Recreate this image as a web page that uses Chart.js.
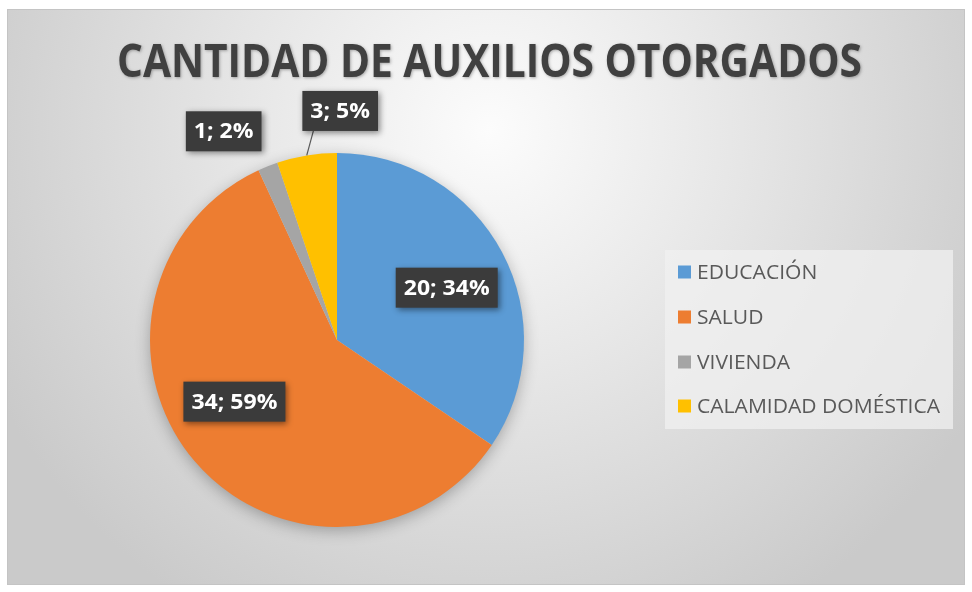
<!DOCTYPE html>
<html>
<head>
<meta charset="utf-8">
<script src="https://cdn.jsdelivr.net/npm/chart.js@4.4.1/dist/chart.umd.min.js"></script>
<style>
  html, body { margin: 0; padding: 0; background: #ffffff; }
  #wrap { width: 972px; height: 592px; position: relative; }
</style>
</head>
<body>
<div id="wrap"><canvas id="c" width="972" height="592"></canvas></div>
<script>
// ---- data ----
const titleText = 'CANTIDAD DE AUXILIOS OTORGADOS';
const categories = ['EDUCACIÓN', 'SALUD', 'VIVIENDA', 'CALAMIDAD DOMÉSTICA'];
const values = [20, 34, 1, 3];
const sliceColors = ['#5B9BD5', '#ED7D31', '#A5A5A5', '#FFC000'];

// ---- label placement style (angle in degrees clockwise from top, distance as fraction of radius) ----
const labelAngle = [64.5, 239, 331.5, 0.8];
const labelDist = [0.65, 0.64, 1.27, 1.225];
const labelLeader = [false, false, false, true];

const total = values.reduce((a, b) => a + b, 0);
const labelTexts = values.map(v => v + '; ' + Math.round(v / total * 100) + '%');

const FONT = '"Open Sans", "DejaVu Sans", sans-serif';

const bgPlugin = {
  id: 'bgPlugin',
  beforeDraw(chart) {
    const ctx = chart.ctx;
    ctx.save();
    ctx.fillStyle = '#ffffff';
    ctx.fillRect(0, 0, chart.width, chart.height);
    const x0 = 7, y0 = 9, x1 = 965, y1 = 585;
    const g = ctx.createRadialGradient(490, 130, 0, 490, 130, 560);
    g.addColorStop(0, '#fcfcfc');
    g.addColorStop(0.45, '#e6e6e6');
    g.addColorStop(1, '#cacaca');
    ctx.fillStyle = g;
    ctx.fillRect(x0, y0, x1 - x0, y1 - y0);
    ctx.strokeStyle = '#c4c4c4';
    ctx.lineWidth = 1;
    ctx.strokeRect(x0 + 0.5, y0 + 0.5, x1 - x0 - 1, y1 - y0 - 1);

    // title
    ctx.font = 'bold 46px ' + FONT;
    ctx.textBaseline = 'alphabetic';
    ctx.textAlign = 'left';
    const w = ctx.measureText(titleText).width;
    const targetW = 745;
    const sx = targetW / w;
    ctx.save();
    ctx.translate(489.5 - targetW / 2, 77);
    ctx.scale(sx, 1);
    ctx.shadowColor = 'rgba(0,0,0,0.3)';
    ctx.shadowBlur = 3;
    ctx.shadowOffsetX = 1;
    ctx.shadowOffsetY = 1;
    ctx.fillStyle = '#404040';
    ctx.fillText(titleText, 0, 0);
    ctx.restore();

    // legend
    const lx0 = 665, ly0 = 250, lx1 = 953, ly1 = 429;
    ctx.fillStyle = 'rgba(240,240,240,0.75)';
    ctx.fillRect(lx0, ly0, lx1 - lx0, ly1 - ly0);
    const rows = [272, 317, 362, 406];
    ctx.font = '20px ' + FONT;
    const lw = ctx.measureText(categories[3]).width;
    const lsx = 243 / lw;
    categories.forEach((cat, i) => {
      ctx.fillStyle = sliceColors[i];
      ctx.fillRect(678, rows[i] - 6.5, 13, 13);
      ctx.save();
      ctx.translate(697, rows[i]);
      ctx.scale(lsx, 1);
      ctx.fillStyle = '#595959';
      ctx.textBaseline = 'middle';
      ctx.fillText(cat, 0, 1);
      ctx.restore();
    });
    ctx.restore();
  },
  beforeDatasetsDraw(chart) {
    const meta = chart.getDatasetMeta(0);
    const arc = meta.data[0];
    if (!arc) return;
    const ctx = chart.ctx;
    ctx.save();
    ctx.shadowColor = 'rgba(0,0,0,0.3)';
    ctx.shadowBlur = 16;
    ctx.shadowOffsetX = 0;
    ctx.shadowOffsetY = 4;
    ctx.fillStyle = '#d0d0d0';
    ctx.beginPath();
    ctx.arc(arc.x, arc.y, arc.outerRadius - 1, 0, Math.PI * 2);
    ctx.fill();
    ctx.restore();
  },
  afterDatasetsDraw(chart) {
    const meta = chart.getDatasetMeta(0);
    const ctx = chart.ctx;
    ctx.save();
    ctx.font = 'bold 21px ' + FONT;
    const refW = ctx.measureText(labelTexts[0]).width;
    const tsx = 86 / refW;
    meta.data.forEach((arc, i) => {
      const r = arc.outerRadius;
      const a = labelAngle[i] * Math.PI / 180;
      const cx = arc.x + Math.sin(a) * r * labelDist[i];
      const cy = arc.y - Math.cos(a) * r * labelDist[i];
      const tw = ctx.measureText(labelTexts[i]).width * tsx;
      const bw = tw + 16, bh = 40;
      const bx = cx - bw / 2, by = cy - bh / 2;
      if (labelLeader[i]) {
        const mid = (arc.startAngle + arc.endAngle) / 2;
        const px = arc.x + Math.cos(mid) * r;
        const py = arc.y + Math.sin(mid) * r;
        ctx.strokeStyle = '#595959';
        ctx.lineWidth = 1.2;
        ctx.beginPath();
        ctx.moveTo(px, py);
        ctx.lineTo(bx + 11, by + bh);
        ctx.stroke();
      }
      ctx.save();
      ctx.shadowColor = 'rgba(0,0,0,0.45)';
      ctx.shadowBlur = 6;
      ctx.shadowOffsetX = 2;
      ctx.shadowOffsetY = 2;
      ctx.fillStyle = '#3b3b3b';
      ctx.fillRect(bx, by, bw, bh);
      ctx.restore();
      ctx.save();
      ctx.translate(cx - tw / 2, cy + 1);
      ctx.scale(tsx, 1);
      ctx.fillStyle = '#ffffff';
      ctx.textBaseline = 'middle';
      ctx.textAlign = 'left';
      ctx.fillText(labelTexts[i], 0, 0);
      ctx.restore();
    });
    ctx.restore();
  }
};

new Chart(document.getElementById('c'), {
  type: 'pie',
  data: {
    labels: categories,
    datasets: [{
      data: values,
      backgroundColor: sliceColors,
      borderWidth: 0,
      hoverOffset: 0
    }]
  },
  options: {
    responsive: false,
    animation: false,
    events: [],
    layout: { padding: { left: 150, right: 448, top: 153, bottom: 65 } },
    plugins: {
      legend: { display: false },
      title: { display: false },
      tooltip: { enabled: false }
    }
  },
  plugins: [bgPlugin]
});
</script>
</body>
</html>
